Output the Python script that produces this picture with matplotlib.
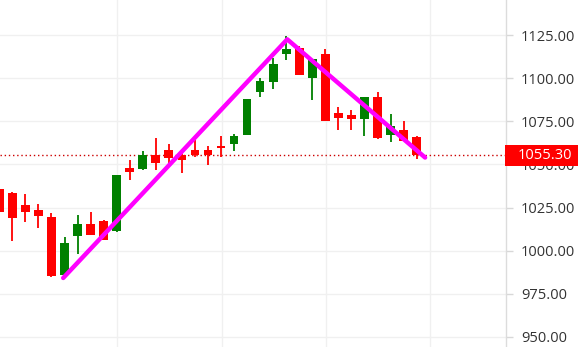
import matplotlib.pyplot as plt
import matplotlib.transforms as mtransforms
from matplotlib.patches import Rectangle
import numpy as np

# OHLC, one entry per candle
opens = [1035.9, 1033.6, 1026.6, 1023.7, 1019.7, 985.7, 1008.3, 1015.6, 1017.4, 1011.2,
         1047.9, 1047.6, 1055.6, 1058.4, 1055.2, 1058.4, 1058.4, 1060.8, 1062.1, 1067.3,
         1092.2, 1098.0, 1114.2, 1117.5, 1100.3, 1114.0, 1079.9, 1078.7, 1076.6, 1089.1,
         1067.3, 1070.0, 1066.0]
highs = [1036.5, 1034.2, 1033.0, 1027.2, 1022.0, 1008.1, 1020.8, 1022.2, 1018.0, 1044.0,
         1052.7, 1057.9, 1065.6, 1062.1, 1056.5, 1064.2, 1060.8, 1066.6, 1067.7, 1088.0,
         1099.9, 1111.5, 1124.4, 1118.8, 1111.1, 1116.9, 1083.3, 1081.6, 1089.1, 1092.0,
         1079.5, 1075.2, 1066.5]
lows = [1022.0, 1005.4, 1016.4, 1012.9, 985.0, 985.5, 998.3, 1008.9, 1006.0, 1011.0,
        1041.1, 1046.5, 1046.9, 1050.7, 1045.3, 1054.2, 1049.8, 1054.6, 1057.5, 1067.3,
        1089.3, 1093.7, 1110.7, 1102.0, 1087.6, 1075.4, 1070.2, 1070.2, 1066.7, 1065.0,
        1063.1, 1063.8, 1053.4]
closes = [1022.7, 1018.7, 1022.2, 1019.9, 985.1, 1004.6, 1015.6, 1008.9, 1006.4, 1044.0,
          1045.9, 1055.4, 1051.1, 1054.0, 1052.8, 1055.2, 1055.6, 1059.8, 1066.6, 1088.0,
          1098.4, 1108.2, 1116.9, 1102.0, 1111.1, 1075.4, 1077.2, 1076.4, 1089.1, 1065.6,
          1072.3, 1063.8, 1055.3]

last_price = 1055.30
yticks = [950, 975, 1000, 1025, 1050, 1075, 1100, 1125]

# hand drawn trend lines (candle index, price)
trend_x = [4.9, 22.08, 32.65]
trend_y = [984.2, 1122.5, 1054.0]

up_color = '#008000'
down_color = '#ff0000'

fig = plt.figure(figsize=(5.81, 3.47), dpi=100)
ax = fig.add_axes([0, 0, 505.7 / 581, 1])

x = np.arange(len(opens))
o = np.array(opens)
c = np.array(closes)
colors = [up_color if cc >= oo else down_color for oo, cc in zip(o, c)]

ax.vlines(x, lows, highs, colors=colors, linewidth=1.3, zorder=3)
ax.bar(x, np.maximum(np.abs(c - o), 0.6), bottom=np.minimum(o, c), width=0.67,
       color=colors, linewidth=0, zorder=4)

ax.plot(trend_x, trend_y, color='#ff00ff', linewidth=3.2, solid_capstyle='round', zorder=6)

ax.axhline(last_price, color='#cc0000', linewidth=1, linestyle=(0, (1, 2)), zorder=2)

ax.set_xlim(0.054, 38.83)
ax.set_ylim(944.2, 1145.3)

ax.set_yticks(yticks)
ax.set_yticklabels([f'{v:.2f}' for v in yticks])
ax.set_xticks([9.05, 17.05, 25.05, 33.05])
ax.tick_params(axis='x', length=0, labelbottom=False)
ax.yaxis.tick_right()
ax.tick_params(axis='y', direction='out', length=5, width=1, color='#d8d8d8',
               labelsize=10.5, labelcolor='#333333', pad=6)
for lab in ax.get_yticklabels():
    lab.set_fontfamily('Open Sans')

ax.grid(True, color='#f0f0f0', linewidth=1, zorder=0)
ax.set_axisbelow(True)
for side in ['top', 'left', 'bottom']:
    ax.spines[side].set_visible(False)
ax.spines['right'].set_color('#dcdcdc')
ax.spines['right'].set_linewidth(1)

# price label on the axis: red box covering the axis labels
trans = mtransforms.blended_transform_factory(ax.transAxes, ax.transData)
ax.add_patch(Rectangle((0.9986, 1049.2), 0.1444, 12.1, transform=trans,
                       facecolor='#ff0000', edgecolor='none', clip_on=False, zorder=10))
ax.text(1.0245, last_price, f'{last_price:.2f}', transform=trans, va='center', ha='left',
        fontsize=10.5, color='white', family='Open Sans', fontweight='medium',
        clip_on=False, zorder=11)

fig.savefig('out.png', dpi=100)
